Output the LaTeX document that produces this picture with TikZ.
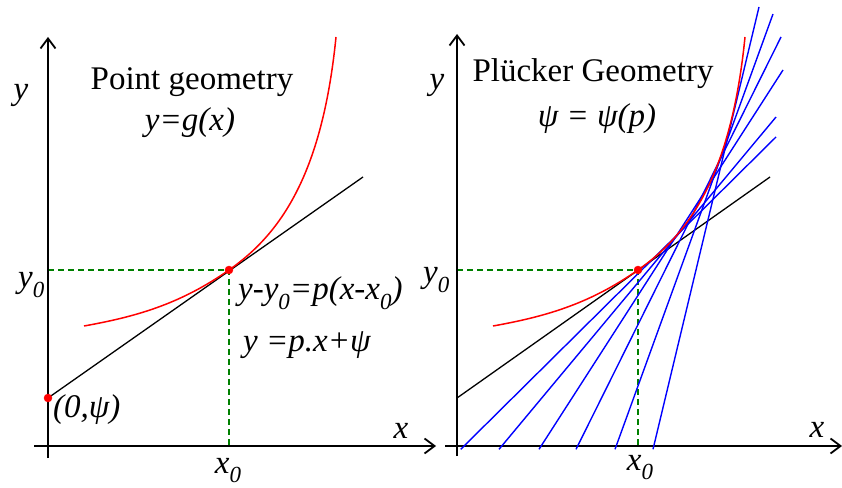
\documentclass[tikz,border=0pt]{standalone}
\usepackage{fontspec}
\setmainfont{Liberation Serif}
\usetikzlibrary{arrows.meta,positioning}

\newcommand{\lowi}[1]{\raisebox{-0.28em}{\fontsize{23}{23}\selectfont #1}}
\def\gcurve{(36,120) .. controls (86,129) and (131,141) .. (181,176) .. controls (231,211) and (274,269) .. (288,409)}

\begin{document}
\begin{tikzpicture}[x=1pt,y=1pt,
    axis/.style={line width=1.8pt,-{Straight Barb[length=10pt,width=15pt]}},
    curve/.style={red,line width=1.5pt},
    tangent/.style={black,line width=1.3pt},
    family/.style={blue,line width=1.4pt},
    guide/.style={green!50!black,line width=1.4pt,dash pattern=on 6pt off 4pt},
    lbl/.style={font=\fontsize{33}{36}\selectfont\itshape,inner sep=0pt},
    title/.style={font=\fontsize{33}{36}\selectfont,inner sep=0pt}]
  \useasboundingbox (0,0) rectangle (842,487);

  % Point geometry
  \begin{scope}[shift={(48,41)}]
    \coordinate (o1) at (0,0);
    \coordinate (p1) at (181,176);
    \coordinate (c1) at (0,48);
    \draw[guide] (0,176) -- (p1) -- (181,0);
    \draw[axis] (-14,0) -- (388,0);
    \draw[axis] (0,-12) -- (0,409);
    \draw[tangent] (c1) -- (315,269);
    \draw[curve] \gcurve;
    \filldraw[red] (p1) circle (4);
    \filldraw[red] (c1) circle (4);
    % Labels
    \node[title,anchor=base] (t1) at (144,356) {Point geometry};
    \node[lbl,anchor=base] (g1) at (142,315) {y=g(x)};
    \node[lbl,anchor=base west] (e1) at (190,146) {y-y\lowi{0}=p(x-x\lowi{0})};
    \node[lbl,anchor=base west] (e2) at (195,94) {y =p.x+ψ};
    \node[lbl,anchor=base west] (q1) at (5,29) {(0,ψ)};
    \node[lbl,anchor=base west] (y01) at (-30,158) {y\lowi{0}};
    \node[lbl,anchor=base] (x01) at (180,-27) {x\lowi{0}};
    \node[lbl,anchor=base] (ya1) at (-27,346) {y};
    \node[lbl,anchor=base] (xa1) at (353,8) {x};
  \end{scope}

  % Pluecker geometry
  \begin{scope}[shift={(457,41)}]
    \coordinate (o2) at (0,0);
    \coordinate (p2) at (181,176);
    \draw[guide] (0,176) -- (p2) -- (181,0);
    \draw[axis] (-12,0) -- (385,0);
    \draw[axis] (0,-10) -- (0,412);
    \draw[tangent] (0,48) -- (313,269);
    % Tangent family
    \foreach \a/\b/\c in {3.7/319/309, 42/319/329, 82/326/376, 119/324/409, 158/316/432, 196/302/439}
      \draw[family] (\a,-3.3) -- (\b,\c);
    \draw[curve] \gcurve;
    \filldraw[red] (p2) circle (4);
    % Labels
    \node[title,anchor=base] (t2) at (136,364) {Plücker Geometry};
    \node[lbl,anchor=base] (g2) at (140,319) {ψ = ψ(p)};
    \node[lbl,anchor=base west] (y02) at (-34,163) {y\lowi{0}};
    \node[lbl,anchor=base] (x02) at (183,-24) {x\lowi{0}};
    \node[lbl,anchor=base] (ya2) at (-20,356) {y};
    \node[lbl,anchor=base] (xa2) at (360,9) {x};
  \end{scope}
\end{tikzpicture}
\end{document}
